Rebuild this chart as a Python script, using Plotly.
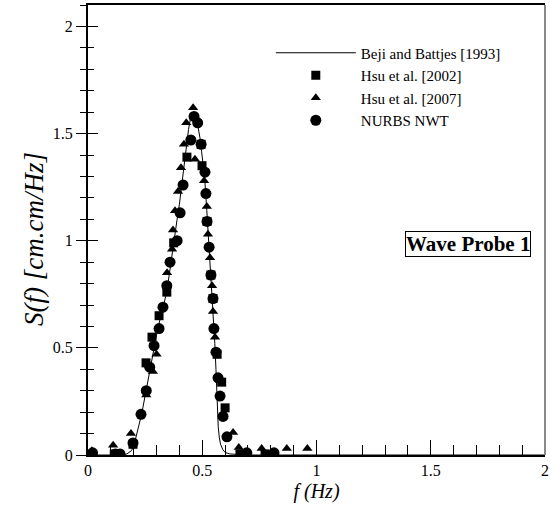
import plotly.graph_objects as go

# Beji and Battjes [1993] (line)
f_beji = [0, 0.10, 0.15, 0.17, 0.19, 0.20, 0.21, 0.22, 0.23, 0.24, 0.25, 0.26, 0.27, 0.28, 0.29,
          0.30, 0.31, 0.32, 0.33, 0.34, 0.35, 0.36, 0.37, 0.38, 0.39, 0.40, 0.41, 0.42, 0.43, 0.44,
          0.45, 0.46, 0.47, 0.48, 0.49, 0.50, 0.51, 0.52, 0.53, 0.54, 0.55, 0.555, 0.56, 0.565,
          0.57, 0.575, 0.58, 0.59, 0.60, 0.62, 0.65, 0.70, 1.0, 2.0]
s_beji = [0, 0, 0, 0.005, 0.02, 0.04, 0.08, 0.12, 0.17, 0.22, 0.28, 0.34, 0.40, 0.46, 0.51,
          0.56, 0.61, 0.65, 0.69, 0.74, 0.80, 0.88, 0.96, 1.03, 1.10, 1.17, 1.26, 1.35, 1.44, 1.52,
          1.58, 1.60, 1.58, 1.54, 1.48, 1.40, 1.30, 1.14, 0.97, 0.80, 0.62, 0.52, 0.40, 0.25,
          0.13, 0.08, 0.05, 0.025, 0.012, 0.005, 0.002, 0, 0, 0]

# Hsu et al. [2002] (squares)
f_hsu02 = [0.115, 0.197, 0.254, 0.28, 0.311, 0.345, 0.375, 0.433, 0.495, 0.499, 0.521, 0.538,
           0.547, 0.565, 0.585, 0.600, 0.665, 0.775]
s_hsu02 = [0.005, 0.05, 0.43, 0.55, 0.65, 0.76, 0.99, 1.39, 1.45, 1.35, 1.09, 0.84,
           0.73, 0.47, 0.34, 0.22, 0.005, 0.005]

# Hsu et al. [2007] (triangles)
f_hsu07 = [0.017, 0.11, 0.188, 0.255, 0.284, 0.30, 0.346, 0.368, 0.372, 0.381, 0.394, 0.407,
           0.42, 0.43, 0.46, 0.468, 0.508, 0.52, 0.525, 0.534, 0.543, 0.547, 0.556, 0.635,
           0.66, 0.76, 0.87, 0.96]
s_hsu07 = [0.02, 0.045, 0.10, 0.28, 0.39, 0.47, 0.85, 0.96, 1.05, 1.14, 1.23, 1.34,
           1.45, 1.55, 1.62, 1.38, 1.28, 1.16, 1.03, 0.92, 0.79, 0.67, 0.55, 0.105,
           0.035, 0.03, 0.03, 0.03]

# NURBS NWT (circles)
f_nurbs = [0.02, 0.12, 0.14, 0.197, 0.232, 0.255, 0.27, 0.289, 0.311, 0.328, 0.345, 0.359,
           0.39, 0.403, 0.416, 0.45, 0.464, 0.48, 0.495, 0.512, 0.516, 0.521, 0.53, 0.538,
           0.547, 0.551, 0.56, 0.569, 0.578, 0.591, 0.608, 0.695, 0.814]
s_nurbs = [0.01, 0.005, 0.005, 0.056, 0.19, 0.30, 0.41, 0.51, 0.59, 0.69, 0.79, 0.90,
           1.00, 1.13, 1.26, 1.47, 1.58, 1.55, 1.45, 1.32, 1.22, 1.09, 0.97, 0.84,
           0.73, 0.59, 0.48, 0.36, 0.275, 0.18, 0.085, 0.01, 0.01]

FONT = "Liberation Serif"

fig = go.Figure()
fig.add_trace(go.Scatter(x=f_beji, y=s_beji, mode="lines", name="Beji and Battjes [1993]",
                         line=dict(color="black", width=1)))
fig.add_trace(go.Scatter(x=f_hsu02, y=s_hsu02, mode="markers", name="Hsu et al. [2002]",
                         marker=dict(symbol="square", size=9, color="black")))
fig.add_trace(go.Scatter(x=f_hsu07, y=s_hsu07, mode="markers", name="Hsu et al. [2007]",
                         marker=dict(symbol="triangle-up", size=9, color="black")))
fig.add_trace(go.Scatter(x=f_nurbs, y=s_nurbs, mode="markers", name="NURBS NWT",
                         marker=dict(symbol="circle", size=11, color="black")))
# dummy trace so the overlaid (inside-tick) y axis is drawn
fig.add_trace(go.Scatter(x=[None], y=[None], yaxis="y2", showlegend=False, hoverinfo="skip"))

fig.update_layout(
    width=550, height=520,
    margin=dict(l=88, r=5, t=5, b=65, autoexpand=False),
    paper_bgcolor="white", plot_bgcolor="white",
    font=dict(family=FONT, color="black", size=16),
    showlegend=True,
    legend=dict(x=0.40, y=0.93, xanchor="left", yanchor="top",
                bgcolor="rgba(0,0,0,0)", font=dict(family=FONT, size=15, color="black"),
                itemwidth=80, tracegroupgap=0),
    xaxis=dict(range=[0, 2], dtick=0.5, tick0=0, showgrid=False, zeroline=False,
               showline=True, linecolor="black", linewidth=2, mirror=True, automargin=False,
               ticks="inside", ticklen=15, tickcolor="black", tickwidth=1,
               minor=dict(dtick=0.1, ticks="inside", ticklen=10, tickcolor="black", tickwidth=1),
               tickfont=dict(family=FONT, size=16),
               title=dict(text="<i>f (Hz)</i>", font=dict(family=FONT, size=20), standoff=6)),
    yaxis=dict(range=[0, 2.1], dtick=0.5, tick0=0, showgrid=False, zeroline=False,
               showline=True, linecolor="black", linewidth=2, automargin=False,
               ticks="outside", ticklen=10, tickcolor="black", tickwidth=1,
               minor=dict(dtick=0.1, ticks="outside", ticklen=6, tickcolor="black", tickwidth=1),
               tickfont=dict(family=FONT, size=16)),
    yaxis2=dict(range=[0, 2.1], overlaying="y", side="left", dtick=0.5, tick0=0,
                showgrid=False, zeroline=False, showline=False, showticklabels=False,
                automargin=False,
                ticks="inside", ticklen=10, tickcolor="black", tickwidth=1,
                minor=dict(dtick=0.1, ticks="inside", ticklen=6, tickcolor="black", tickwidth=1)),
    shapes=[dict(type="line", xref="paper", yref="paper", x0=1, x1=1, y0=0, y1=1,
                 line=dict(color="#888888", width=2))],
    annotations=[
        dict(x=1.663, y=0.986, xref="x", yref="y", text="<b>Wave Probe 1</b>",
             showarrow=False, font=dict(family=FONT, size=21, color="black"),
             bordercolor="black", borderwidth=1, borderpad=0, bgcolor="white"),
        dict(x=0, y=0.5, xref="paper", yref="paper", xshift=-71, yshift=-9,
             text="<i>S(f) [cm.cm/Hz]</i>", textangle=-90, showarrow=False,
             font=dict(family=FONT, size=27, color="black")),
    ],
)

fig.write_html("out.html")
